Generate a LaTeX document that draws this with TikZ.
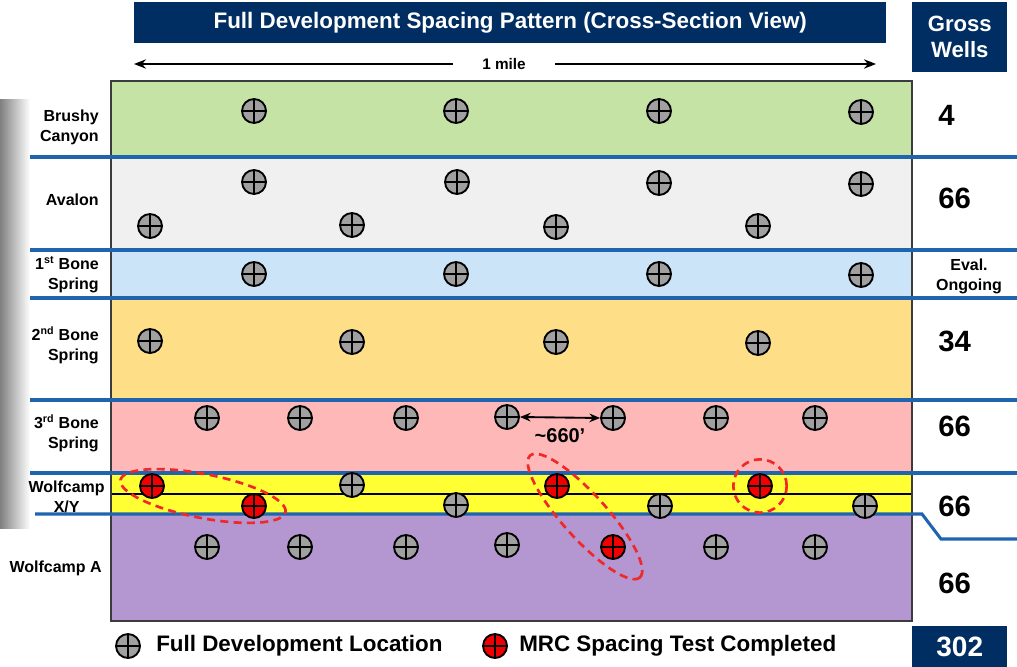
\documentclass[tikz,border=0pt]{standalone}
\usepackage{fontspec}
\setmainfont{Liberation Sans}
\usetikzlibrary{shapes.geometric,arrows.meta,calc}
\definecolor{navy}{RGB}{0,45,98}
\definecolor{sepblue}{RGB}{30,100,175}
\definecolor{bandgreen}{RGB}{198,227,166}
\definecolor{bandgray}{RGB}{240,240,240}
\definecolor{bandblue}{RGB}{204,228,248}
\definecolor{bandorange}{RGB}{255,222,136}
\definecolor{bandpink}{RGB}{255,184,184}
\definecolor{bandyellow}{RGB}{255,255,51}
\definecolor{bandpurple}{RGB}{180,150,208}
\definecolor{wellgray}{RGB}{160,160,160}
\definecolor{mrcred}{RGB}{240,0,0}
\definecolor{ringred}{RGB}{240,40,40}
\definecolor{boxborder}{RGB}{60,60,60}
\begin{document}
\begin{tikzpicture}[x=0.75pt,y=-0.75pt,
  well/.style={circle,draw=black,line width=1.4pt,fill=wellgray,minimum size=18pt,inner sep=0pt,
    path picture={\draw[line width=1.3pt] (path picture bounding box.north) -- (path picture bounding box.south)
      (path picture bounding box.west) -- (path picture bounding box.east);}},
  mrc/.style={well,fill=mrcred},
  sepline/.style={line width=2.3pt,draw=sepblue},
  lbl/.style={font=\bfseries\fontsize{12}{15}\selectfont,align=right,anchor=east,inner sep=0pt},
  num/.style={font=\bfseries\fontsize{22}{24}\selectfont,anchor=west,inner sep=0pt},
  dashring/.style={draw=ringred,line width=2pt,dash pattern=on 6pt off 4pt},
  hdr/.style={fill=navy,text=white,font=\bfseries\fontsize{16.8}{20}\selectfont,inner sep=0pt},
  arr/.style={line width=1.6pt,-{Stealth[length=9pt,width=7pt]}},
]
\useasboundingbox (0,0) rectangle (1017,667);
% left shadow
\shade[left color=black!50,right color=white] (0,100) rectangle (30,528);
% bands
\fill[bandgreen] (111,81) rectangle (912,157);
\fill[bandgray] (111,157) rectangle (912,250);
\fill[bandblue] (111,250) rectangle (912,298);
\fill[bandorange] (111,298) rectangle (912,400);
\fill[bandpink] (111,400) rectangle (912,473);
\fill[bandyellow] (111,473) rectangle (912,514);
\fill[bandpurple] (111,514) rectangle (912,621);
\draw[line width=0.9pt] (111,494) -- (912,494);
\draw[boxborder,line width=1.5pt] (111,81) rectangle (912,621);
% separators
\foreach \yy in {157,250,298,400,473} \draw[sepline] (30,\yy) -- (1017,\yy);
\draw[sepline] (35,514) -- (922,514) -- (941,539) -- (1017,539);
% header boxes
\node[hdr,minimum width=564pt,minimum height=30.75pt,anchor=north west] (title) at (134,2) {Full Development Spacing Pattern (Cross-Section View)};
\node[hdr,minimum width=71.25pt,minimum height=52.5pt,anchor=north west,align=center,font=\bfseries\fontsize{16.6}{19.5}\selectfont] (gross) at (912,2) {Gross\\Wells};
\node[fill=navy,minimum width=71.25pt,minimum height=31.5pt,anchor=north west,inner sep=0pt,text=white,font=\bfseries\fontsize{21}{24}\selectfont] (total) at (912,626) {302};
% 1 mile
\node[font=\bfseries\fontsize{11.5}{13}\selectfont,inner sep=0pt] (mile) at (504,64) {1 mile};
\coordinate (ml) at (134,64);
\coordinate (mr) at (876,64);
\draw[arr,shorten <=22pt] (mile.west) -- (ml);
\draw[arr,shorten <=22pt] (mile.east) -- (mr);
% left labels
\node[lbl] (lb1) at (99,127) {Brushy\\Canyon};
\node[lbl] (lb2) at (99,200) {Avalon};
\node[lbl] (lb3) at (99,275) {1\textsuperscript{st} Bone\\Spring};
\node[lbl] (lb4) at (99,345) {2\textsuperscript{nd} Bone\\Spring};
\node[lbl] (lb5) at (99,433) {3\textsuperscript{rd} Bone\\Spring};
\node[lbl,align=center] (lb6) at (105,497) {Wolfcamp\\X/Y};
\node[lbl] (lb7) at (102,568) {Wolfcamp A};
% right numbers
\node[num] (n1) at (938,115) {4};
\node[num] (n2) at (938,198) {66};
\node[font=\bfseries\fontsize{12}{15}\selectfont,align=center,inner sep=0pt] (n3) at (969,276) {Eval.\\Ongoing};
\node[num] (n4) at (938,341) {34};
\node[num] (n5) at (938,426) {66};
\node[num] (n6) at (938,506) {66};
\node[num] (n7) at (938,583) {66};
% wells: Brushy Canyon
\node[well] (b1) at (254,111) {};
\node[well] (b2) at (456,111) {};
\node[well] (b3) at (659,111) {};
\node[well] (b4) at (861,112) {};
% Avalon
\node[well] (a1) at (254,182) {};
\node[well] (a2) at (457,182) {};
\node[well] (a3) at (659,183) {};
\node[well] (a4) at (861,184) {};
\node[well] (a5) at (150,226) {};
\node[well] (a6) at (352,225) {};
\node[well] (a7) at (556,227) {};
\node[well] (a8) at (758,226) {};
% 1st Bone Spring
\node[well] (f1) at (254,274) {};
\node[well] (f2) at (456,274) {};
\node[well] (f3) at (659,274) {};
\node[well] (f4) at (861,275) {};
% 2nd Bone Spring
\node[well] (s1) at (150,341) {};
\node[well] (s2) at (352,342) {};
\node[well] (s3) at (556,342) {};
\node[well] (s4) at (758,343) {};
% 3rd Bone Spring
\node[well] (t1) at (207,418) {};
\node[well] (t2) at (300,418) {};
\node[well] (t3) at (406,418) {};
\node[well] (t4) at (507,417) {};
\node[well] (t5) at (613,418) {};
\node[well] (t6) at (716,418) {};
\node[well] (t7) at (815,418) {};
% Wolfcamp X/Y
\node[mrc] (x1) at (152,486) {};
\node[well] (x2) at (352,485) {};
\node[mrc] (x3) at (557,486) {};
\node[mrc] (x4) at (760,486) {};
\node[mrc] (x5) at (254,506) {};
\node[well] (x6) at (456,505) {};
\node[well] (x7) at (660,506) {};
\node[well] (x8) at (865,506) {};
% Wolfcamp A
\node[well] (w1) at (207,547) {};
\node[well] (w2) at (300,547) {};
\node[well] (w3) at (406,547) {};
\node[well] (w4) at (507,545) {};
\node[mrc] (w5) at (613,547) {};
\node[well] (w6) at (716,547) {};
\node[well] (w7) at (815,547) {};
% spacing arrow
\draw[line width=1.4pt,{Stealth[length=8pt,width=6.5pt]}-{Stealth[length=8pt,width=6.5pt]}] (t4.east) -- (t5.west);
\node[font=\bfseries\fontsize{15}{17}\selectfont,inner sep=0pt] (sp) at (560,436) {\textasciitilde660’};
% MRC rings
\node[dashring,ellipse,rotate=-11,minimum width=126pt,minimum height=33pt,inner sep=0pt] (e1) at ($(x1)!0.5!(x5)$) {};
\node[dashring,ellipse,rotate=-48,minimum width=123pt,minimum height=33pt,inner sep=0pt] (e2) at ($(x3)!0.5!(w5)$) {};
\node[dashring,circle,minimum size=40pt,inner sep=0pt] (e3) at (x4) {};
% legend
\node[well] (lg) at (128,646) {};
\node[font=\bfseries\fontsize{16.8}{20}\selectfont,anchor=west,inner sep=0pt] (lgt) at (156,646) {Full Development Location};
\node[mrc] (lr) at (495,646) {};
\node[font=\bfseries\fontsize{16.8}{20}\selectfont,anchor=west,inner sep=0pt] (lrt) at (519,646) {MRC Spacing Test Completed};
\end{tikzpicture}
\end{document}
